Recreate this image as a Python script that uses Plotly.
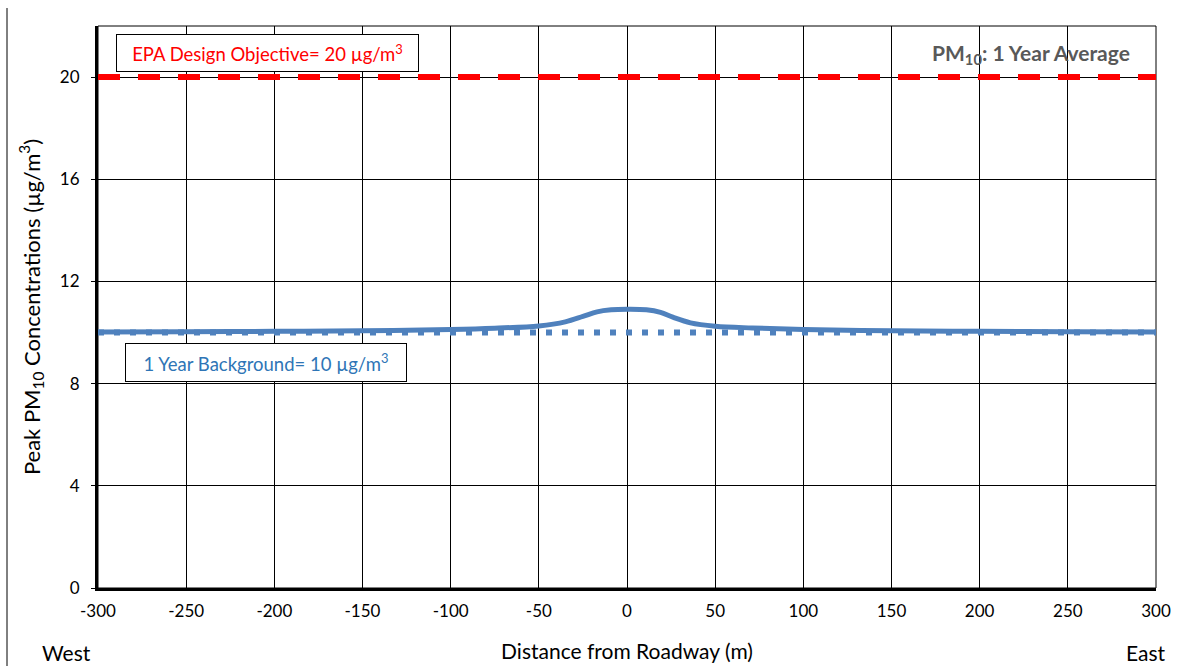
import plotly.graph_objects as go

# Distance from roadway (m) and modelled peak PM10 (µg/m3)
distance = [-300, -250, -200, -150, -100, -75, -50, -35, -25, -17, -9,
            0, 11, 19, 26, 36, 50, 71, 100, 150, 200, 250, 300]
pm10_total = [10.02, 10.03, 10.05, 10.07, 10.12, 10.17, 10.26, 10.42, 10.63, 10.81, 10.89,
              10.91, 10.89, 10.79, 10.60, 10.38, 10.25, 10.18, 10.12, 10.07, 10.05, 10.03, 10.02]

# Reference levels
objective_x = [-300, 300]
objective_y = [20, 20]
background_x = [-300, 300]
background_y = [10, 10]

x_ticks = [-300, -250, -200, -150, -100, -50, 0, 50, 100, 150, 200, 250, 300]
y_ticks = [0, 4, 8, 12, 16, 20]

FONT = "Lato"
BLUE = "#4F81BD"

fig = go.Figure()

fig.add_trace(go.Scatter(
    x=objective_x, y=objective_y, mode="lines",
    line=dict(color="#FF0000", width=6, dash="22px,18px"),
    hoverinfo="skip", showlegend=False))

fig.add_trace(go.Scatter(
    x=background_x, y=background_y, mode="lines",
    line=dict(color=BLUE, width=6, dash="6px,10px"),
    hoverinfo="skip", showlegend=False))

fig.add_trace(go.Scatter(
    x=distance, y=pm10_total, mode="lines",
    line=dict(color=BLUE, width=5, shape="spline", smoothing=1.0),
    showlegend=False))

fig.update_xaxes(
    range=[-300, 300], tickvals=x_ticks, ticktext=[str(v) for v in x_ticks],
    showgrid=True, gridcolor="black", gridwidth=1,
    showline=True, linecolor="black", linewidth=3,
    zeroline=False, ticks="", ticklen=0, automargin=False, ticklabelstandoff=6,
    tickfont=dict(family=FONT, size=17, color="black"),
    title=dict(text="Distance from Roadway (m)",
               font=dict(family=FONT, size=21, color="black"), standoff=24),
)
fig.update_yaxes(
    range=[0, 22], tickvals=y_ticks,
    showgrid=True, gridcolor="black", gridwidth=1,
    showline=True, linecolor="black", linewidth=3,
    zeroline=False, ticks="outside", ticklen=4, tickcolor="black", automargin=False,
    ticklabelstandoff=8,
    tickfont=dict(family=FONT, size=17, color="black"),
    title=dict(text="Peak PM<sub>10</sub> Concentrations (µg/m<sup>3</sup>)",
               font=dict(family=FONT, size=22, color="black"), standoff=14),
)

fig.add_annotation(
    x=-204, y=20.94, xref="x", yref="y",
    text="EPA Design Objective= 20 µg/m<sup>3</sup>",
    showarrow=False, font=dict(family=FONT, size=18.5, color="#FF0000"),
    width=291, height=26, align="center",
    bgcolor="white", bordercolor="black", borderwidth=1, borderpad=5)

fig.add_annotation(
    x=-205, y=8.81, xref="x", yref="y",
    text="1 Year Background= 10 µg/m<sup>3</sup>",
    showarrow=False, font=dict(family=FONT, size=18.5, color="#2E75B6"),
    width=270, height=27, align="center",
    bgcolor="white", bordercolor="black", borderwidth=1, borderpad=5)

fig.add_annotation(
    x=286.5, y=20.9, xref="x", yref="y", xanchor="right",
    text="<b>PM<sub>10</sub>: 1 Year Average</b>",
    showarrow=False, font=dict(family=FONT, size=21, color="#595959"))

fig.add_annotation(
    x=-0.055, y=-0.115, xref="paper", yref="paper", xanchor="left", yanchor="middle",
    text="West", showarrow=False, font=dict(family=FONT, size=21, color="black"))
fig.add_annotation(
    x=1.011, y=-0.115, xref="paper", yref="paper", xanchor="right", yanchor="middle",
    text="East", showarrow=False, font=dict(family=FONT, size=21, color="black"))

# Plot-area outline (top and right edges thin)
fig.add_shape(type="rect", xref="paper", yref="paper", x0=0, x1=1, y0=0, y1=1,
              line=dict(color="black", width=1), layer="below")
# Frame line at the far left of the page
fig.add_shape(type="line", xref="paper", yref="paper",
              x0=-0.086, x1=-0.086, y0=1.032, y1=-0.14,
              line=dict(color="black", width=1))

fig.update_layout(
    width=1178, height=666,
    margin=dict(l=98, r=22, t=26, b=78),
    paper_bgcolor="white", plot_bgcolor="white",
    font=dict(family=FONT),
)

fig.write_html("out.html")
